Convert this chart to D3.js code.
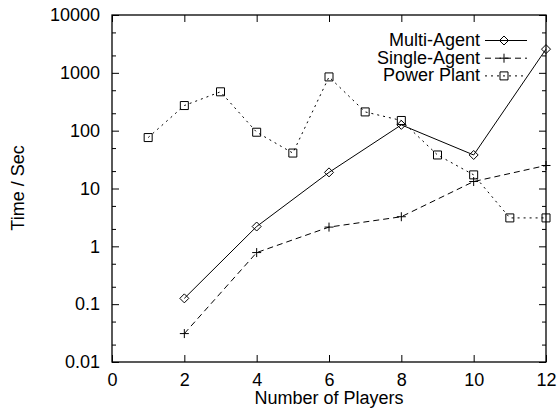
<!DOCTYPE html>
<html>
<head>
<meta charset="utf-8">
<script src="https://cdn.jsdelivr.net/npm/d3@7"></script>
<style>
  body { margin: 0; background: #fff; }
  text { font-family: "Liberation Sans", Arial, sans-serif; fill: #000; }
</style>
</head>
<body>
<div id="chart"></div>
<script>
// data
var players = [2, 4, 6, 8, 10, 12];
var multiAgent = [0.126, 2.2, 19, 126, 38, 2570];
var singleAgent = [0.031, 0.78, 2.15, 3.25, 13.2, 25];
var plantPlayers = [1, 2, 3, 4, 5, 6, 7, 8, 9, 10, 11, 12];
var powerPlant = [76, 272, 470, 94, 41, 850, 211, 150, 38, 17.2, 3.1, 3.1];
var xTicks = [0, 2, 4, 6, 8, 10, 12];
var yTicks = [0.01, 0.1, 1, 10, 100, 1000, 10000];
var seriesNames = ['Multi-Agent', 'Single-Agent', 'Power Plant'];

var svgWidth = 558;
var svgHeight = 409;
var margin = { top: 15, right: 12, bottom: 47, left: 112 };
var width = svgWidth - margin.left - margin.right;
var height = svgHeight - margin.top - margin.bottom;

var svg = d3.select('#chart').append('svg')
    .attr('width', svgWidth)
    .attr('height', svgHeight);

var g = svg.append('g')
    .attr('transform', `translate(${margin.left}, ${margin.top})`);

var xScale = d3.scaleLinear().domain([0, 12]).range([0, width]);
var yScale = d3.scaleLog().domain([0.01, 10000]).range([height, 0]);

// minor log ticks at 2 and 5 of each decade
var minorTicks = [];
yTicks.slice(0, -1).forEach(function(d) {
    minorTicks.push(d * 2, d * 5);
});

function styleAxis(sel) {
    sel.select('.domain').remove();
    sel.selectAll('line').attr('stroke', '#000').attr('stroke-width', 1);
    sel.selectAll('text').style('font-size', '18px');
}

// bottom and left axes with labels, ticks pointing inward
g.append('g')
    .attr('transform', `translate(0, ${height})`)
    .call(d3.axisBottom(xScale).tickValues(xTicks).tickSize(-7).tickPadding(11)
          .tickFormat(d3.format('d')))
    .call(styleAxis);

g.append('g')
    .call(d3.axisLeft(yScale).tickValues(yTicks).tickSize(-7).tickPadding(12)
          .tickFormat(function(d) { return d < 1 ? d3.format('')(+d.toPrecision(1)) : d; }))
    .call(styleAxis);

g.append('g')
    .call(d3.axisLeft(yScale).tickValues(minorTicks).tickSize(-4).tickFormat(''))
    .call(styleAxis);

// mirrored ticks on top and right
g.append('g')
    .call(d3.axisTop(xScale).tickValues(xTicks).tickSize(-7).tickFormat(''))
    .call(styleAxis);

g.append('g')
    .attr('transform', `translate(${width}, 0)`)
    .call(d3.axisRight(yScale).tickValues(yTicks).tickSize(-7).tickFormat(''))
    .call(styleAxis);

g.append('g')
    .attr('transform', `translate(${width}, 0)`)
    .call(d3.axisRight(yScale).tickValues(minorTicks).tickSize(-4).tickFormat(''))
    .call(styleAxis);

// frame
g.append('rect')
    .attr('width', width)
    .attr('height', height)
    .attr('fill', 'none')
    .attr('stroke', '#000')
    .attr('stroke-width', 1.3);

// axis titles
svg.append('text')
    .attr('x', margin.left + width / 2)
    .attr('y', 404)
    .attr('text-anchor', 'middle')
    .style('font-size', '18px')
    .text('Number of Players');

svg.append('text')
    .attr('transform', 'translate(24, 188) rotate(-90)')
    .attr('text-anchor', 'middle')
    .style('font-size', '18px')
    .text('Time / Sec');

// gnuplot-like point shapes
var diamond = 'M0,-4.5L4.5,0L0,4.5L-4.5,0Z';
var square = 'M-4,-4H4V4H-4Z';
var plus = 'M-4.5,0H4.5M0,-4.5V4.5';

function drawSeries(xs, ys, dash, sym) {
    var pts = xs.map(function(x, i) { return [x, ys[i]]; });
    var line = d3.line()
        .x(d => xScale(d[0]))
        .y(d => yScale(d[1]));
    g.append('path')
        .datum(pts)
        .attr('d', line)
        .attr('fill', 'none')
        .attr('stroke', '#000')
        .attr('stroke-width', 1)
        .attr('stroke-dasharray', dash);
    g.selectAll(null).data(pts).enter()
        .append('path')
        .attr('transform', d => `translate(${xScale(d[0])}, ${yScale(d[1])})`)
        .attr('d', sym)
        .attr('fill', 'none')
        .attr('stroke', '#000')
        .attr('stroke-width', 1);
}

var dashes = [null, '6,4', '2,4'];
var symbols = [diamond, plus, square];

drawSeries(plantPlayers, powerPlant, dashes[2], symbols[2]);
drawSeries(players, singleAgent, dashes[1], symbols[1]);
drawSeries(players, multiAgent, dashes[0], symbols[0]);

// legend
var legend = svg.append('g');
seriesNames.forEach(function(name, i) {
    var y = 46 + i * 17.7;
    legend.append('text')
        .attr('x', 480)
        .attr('y', y)
        .attr('text-anchor', 'end')
        .style('font-size', '18px')
        .text(name);
    legend.append('line')
        .attr('x1', 485).attr('x2', 527)
        .attr('y1', y - 5.5).attr('y2', y - 5.5)
        .attr('stroke', '#000')
        .attr('stroke-dasharray', dashes[i]);
    legend.append('path')
        .attr('transform', `translate(504, ${y - 5.5})`)
        .attr('d', symbols[i])
        .attr('fill', 'none')
        .attr('stroke', '#000');
});
</script>
</body>
</html>
